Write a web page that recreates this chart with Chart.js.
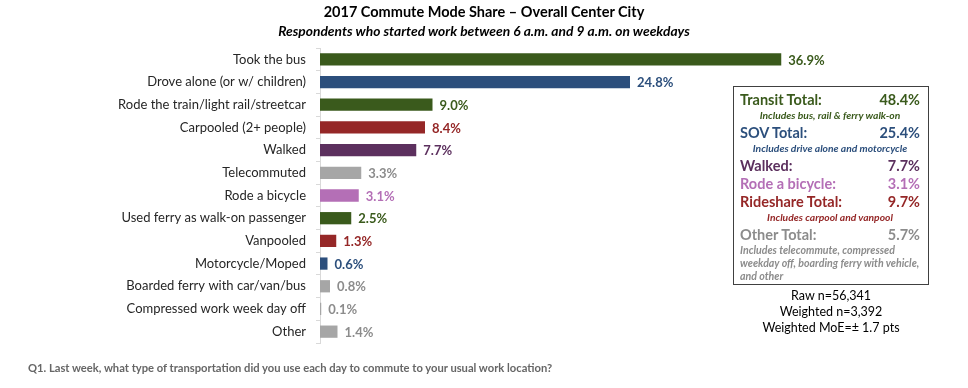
<!DOCTYPE html>
<html>
<head>
<meta charset="utf-8">
<script src="https://cdn.jsdelivr.net/npm/chart.js@4"></script>
<style>
  html, body { margin: 0; padding: 0; background: #fff; }
  #wrap { position: relative; width: 968px; height: 388px; font-family: Lato, 'Open Sans', sans-serif; }
  #wrap canvas { position: absolute; left: 0; top: 0; }
  .title { position: absolute; left: 0; width: 968px; text-align: center; color: #000; }
  #t1 { top: 3px; font-size: 14.5px; font-weight: bold; }
  #t2 { top: 22px; font-size: 13.8px; font-weight: bold; font-style: italic; }
  #box { position: absolute; left: 733px; top: 86px; width: 196px; height: 199px; border: 1.5px solid #404040; box-sizing: border-box; padding: 4px 8px 0 6px; }
  .row { display: flex; justify-content: space-between; font-weight: bold; font-size: 14.5px; line-height: 18px; }
  .note { font-style: italic; font-weight: bold; font-size: 10.3px; line-height: 13px; text-align: center; margin-bottom: 2px; }
  .noteL { text-align: left; font-size: 10.6px; }
  #stats { position: absolute; left: 733px; width: 196px; top: 288px; text-align: center; font-size: 12.5px; line-height: 16px; color: #000; }
  #foot { position: absolute; left: 28px; top: 361px; font-size: 11.2px; font-weight: bold; color: #666; }
</style>
</head>
<body>
<div id="wrap">
  <canvas id="chart" width="968" height="388"></canvas>
  <div class="title" id="t1">2017 Commute Mode Share – Overall Center City</div>
  <div class="title" id="t2">Respondents  who started work between 6 a.m. and 9 a.m. on weekdays</div>
  <div id="box"></div>
  <div id="stats"></div>
  <div id="foot">Q1. Last week, what type of transportation did you use each day to commute to your usual  work location?</div>
</div>
<script>
// Données du graphique
const categories = [
    'Took the bus',
    'Drove alone (or w/ children)',
    'Rode the train/light rail/streetcar',
    'Carpooled (2+ people)',
    'Walked',
    'Telecommuted',
    'Rode a bicycle',
    'Used ferry as walk-on passenger',
    'Vanpooled',
    'Motorcycle/Moped',
    'Boarded ferry with car/van/bus',
    'Compressed work week day off',
    'Other'
];
const shares = [36.9, 24.8, 9.0, 8.4, 7.7, 3.3, 3.1, 2.5, 1.3, 0.6, 0.8, 0.1, 1.4];
const modeGroups = ['transit', 'sov', 'transit', 'rideshare', 'walk', 'other', 'bike', 'transit', 'rideshare', 'sov', 'other', 'other', 'other'];

// Encadré des totaux
const totalLabels = ['Transit Total:', 'SOV Total:', 'Walked:', 'Rode a bicycle:', 'Rideshare Total:', 'Other Total:'];
const totalValues = [48.4, 25.4, 7.7, 3.1, 9.7, 5.7];
const totalGroups = ['transit', 'sov', 'walk', 'bike', 'rideshare', 'other'];
const totalNotes = [
    'Includes bus, rail & ferry walk-on',
    'Includes drive alone and motorcycle',
    '',
    '',
    'Includes carpool and vanpool',
    'Includes telecommute, compressed weekday off, boarding ferry with vehicle, and other'
];
const sampleLines = ['Raw n=56,341', 'Weighted n=3,392', 'Weighted MoE=± 1.7 pts'];

// Couleurs par groupe
const groupColors = {
    transit: '#3a5a1c',
    sov: '#2c4f7c',
    rideshare: '#952727',
    walk: '#5c305e',
    bike: '#b46fb6',
    other: '#a6a6a6'
};
const labelColors = {
    transit: '#3a5a1c',
    sov: '#2c4f7c',
    rideshare: '#952727',
    walk: '#5c305e',
    bike: '#b46fb6',
    other: '#8c8c8c'
};

// Construire l'encadré
const box = document.getElementById('box');
totalLabels.forEach((label, i) => {
    const c = labelColors[totalGroups[i]];
    const row = document.createElement('div');
    row.className = 'row';
    row.style.color = c;
    row.innerHTML = `<span>${label}</span><span>${totalValues[i].toFixed(1)}%</span>`;
    box.appendChild(row);
    if (totalNotes[i]) {
        const n = document.createElement('div');
        n.className = 'note' + (i === 5 ? ' noteL' : '');
        n.style.color = c;
        n.textContent = totalNotes[i];
        box.appendChild(n);
    }
});
document.getElementById('stats').innerHTML = sampleLines.join('<br>');

// Étiquettes de valeur à droite des barres
const valueLabels = {
    id: 'valueLabels',
    afterDatasetsDraw(chart) {
        const ctx = chart.ctx;
        const meta = chart.getDatasetMeta(0);
        ctx.save();
        ctx.font = "bold 13px Lato, 'Open Sans', sans-serif";
        ctx.textBaseline = 'middle';
        ctx.textAlign = 'left';
        meta.data.forEach((bar, i) => {
            ctx.fillStyle = labelColors[modeGroups[i]];
            ctx.fillText(shares[i].toFixed(1) + '%', bar.x + 7, bar.y + 1);
        });
        ctx.restore();
    }
};

new Chart(document.getElementById('chart'), {
    type: 'bar',
    data: {
        labels: categories,
        datasets: [{
            data: shares,
            backgroundColor: modeGroups.map(g => groupColors[g]),
            categoryPercentage: 1,
            barPercentage: 0.54
        }]
    },
    options: {
        indexAxis: 'y',
        responsive: false,
        animation: false,
        layout: {
            padding: { left: 0, right: 148, top: 48, bottom: 45 }
        },
        scales: {
            x: {
                display: false,
                min: 0,
                max: 40
            },
            y: {
                afterFit: (scale) => { scale.width = 320; },
                border: { display: true, color: '#d9d9d9', width: 1 },
                grid: {
                    drawOnChartArea: false,
                    drawTicks: true,
                    tickLength: 4,
                    color: '#d9d9d9'
                },
                ticks: {
                    padding: 10,
                    color: '#262626',
                    font: { size: 13, family: "Lato, 'Open Sans', sans-serif" }
                }
            }
        },
        plugins: {
            legend: { display: false },
            tooltip: { enabled: false }
        }
    },
    plugins: [valueLabels]
});
</script>
</body>
</html>
